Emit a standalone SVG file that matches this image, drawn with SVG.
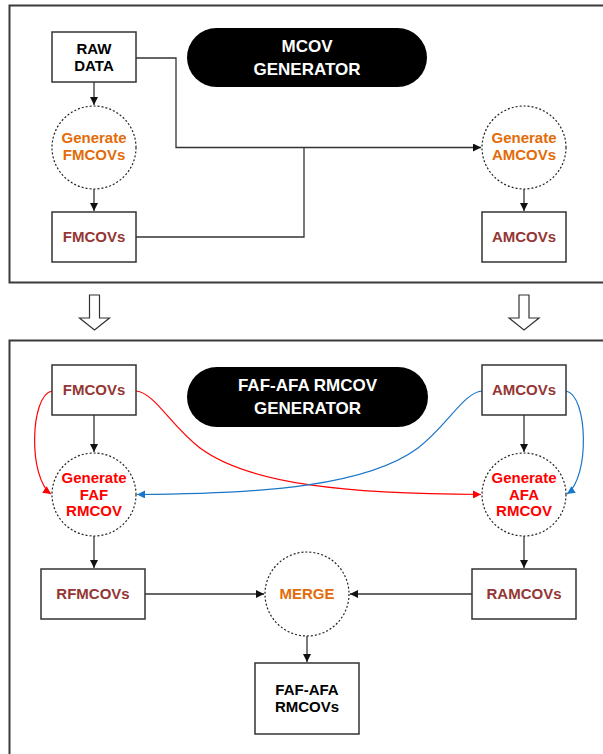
<svg xmlns="http://www.w3.org/2000/svg" width="603" height="754" viewBox="0 0 603 754">
<defs>
<style>
.frame{fill:none;stroke:#3a3a3a;stroke-width:2}
.box{fill:#fff;stroke:#333;stroke-width:1.5}
.pill{fill:#000}
.circ{fill:#fff;stroke:#222;stroke-width:1.2;stroke-dasharray:2 2}
.t{font-family:"Liberation Sans",Arial,sans-serif;font-weight:bold;font-size:15px;text-anchor:middle}
.pt{font-family:"Liberation Sans",Arial,sans-serif;font-weight:bold;font-size:17px;text-anchor:middle;fill:#fff}
.blk{fill:#000}
.brn{fill:#943634}
.org{fill:#E36C09}
.red{fill:#FF0000}
.c{fill:none;stroke:#333;stroke-width:1.3}
.cr{fill:none;stroke:#FF0000;stroke-width:1.2}
.cb{fill:none;stroke:#1a76c8;stroke-width:1.2}
.hollow{fill:#fff;stroke:#333;stroke-width:1.2}
</style>
<marker id="ak" markerWidth="9" markerHeight="8" refX="8" refY="4" orient="auto" markerUnits="userSpaceOnUse"><path d="M0,0 L8,4 L0,8 z" fill="#111"/></marker>
<marker id="ar" markerWidth="9" markerHeight="8" refX="8" refY="4" orient="auto" markerUnits="userSpaceOnUse"><path d="M0,0 L8,4 L0,8 z" fill="#FF0000"/></marker>
<marker id="ab" markerWidth="9" markerHeight="8" refX="8" refY="4" orient="auto" markerUnits="userSpaceOnUse"><path d="M0,0 L8,4 L0,8 z" fill="#1a76c8"/></marker>
</defs>

<rect class="frame" x="9.5" y="5.5" width="620" height="277"/>
<rect class="frame" x="9.5" y="340.5" width="620" height="440"/>

<g id="hollow-arrows">
<path class="hollow" d="M89.5,295 L99.5,295 L99.5,318 L109.5,318 L94.5,330 L79.5,318 L89.5,318 z"/>
<path class="hollow" d="M519,295 L529,295 L529,318 L539,318 L524,330 L509,318 L519,318 z"/>
</g>

<g id="connectors">
<path class="c" d="M136,58 H176 V147.5 H481" marker-end="url(#ak)"/>
<path class="c" d="M136,237 H304 V147.5"/>
<path class="c" d="M94,82 V105" marker-end="url(#ak)"/>
<path class="c" d="M94,189 V211" marker-end="url(#ak)"/>
<path class="c" d="M524,189 V211" marker-end="url(#ak)"/>
<path class="c" d="M94,415 V452" marker-end="url(#ak)"/>
<path class="c" d="M524,415 V452" marker-end="url(#ak)"/>
<path class="c" d="M94,536 V568" marker-end="url(#ak)"/>
<path class="c" d="M524,536 V568" marker-end="url(#ak)"/>
<path class="c" d="M145,594 H264" marker-end="url(#ak)"/>
<path class="c" d="M472,594 H350" marker-end="url(#ak)"/>
<path class="c" d="M307,636 V662" marker-end="url(#ak)"/>
<path class="cr" d="M52,391 C30,395 28,478 51,494" marker-end="url(#ar)"/>
<path class="cr" d="M136,391 C155,393 170,425 200,448 C250,485 350,494 481,494.5" marker-end="url(#ar)"/>
<path class="cb" d="M482,391 C463,393 448,425 418,448 C368,485 268,494 137,494.5" marker-end="url(#ab)"/>
<path class="cb" d="M566,391 C588,395 590,478 567,494" marker-end="url(#ab)"/>
</g>

<g id="raw-data"><rect class="box" x="52" y="32" width="84" height="50"/>
<text class="t blk" x="94" y="54">RAW</text><text class="t blk" x="94" y="71">DATA</text></g>

<g id="mcov-generator"><rect class="pill" x="187" y="28" width="240" height="59" rx="29.5"/>
<text class="pt" x="307" y="52">MCOV</text><text class="pt" x="307" y="75">GENERATOR</text></g>

<g id="gen-fmcovs"><ellipse class="circ" cx="94" cy="147.5" rx="42" ry="41.5"/>
<text class="t org" x="94" y="143">Generate</text><text class="t org" x="94" y="160">FMCOVs</text></g>

<g id="fmcovs-top"><rect class="box" x="52" y="212" width="84" height="50"/>
<text class="t brn" x="94" y="242">FMCOVs</text></g>

<g id="gen-amcovs"><ellipse class="circ" cx="524" cy="147.5" rx="42" ry="41.5"/>
<text class="t org" x="524" y="143">Generate</text><text class="t org" x="524" y="160">AMCOVs</text></g>

<g id="amcovs-top"><rect class="box" x="482" y="212" width="84" height="50"/>
<text class="t brn" x="524" y="242">AMCOVs</text></g>

<g id="fmcovs"><rect class="box" x="52" y="365" width="84" height="50"/>
<text class="t brn" x="94" y="395">FMCOVs</text></g>

<g id="rmcov-generator"><rect class="pill" x="187" y="367" width="241" height="60" rx="30"/>
<text class="pt" x="307.5" y="391">FAF-AFA RMCOV</text><text class="pt" x="307.5" y="414">GENERATOR</text></g>

<g id="amcovs"><rect class="box" x="482" y="365" width="84" height="50"/>
<text class="t brn" x="524" y="395">AMCOVs</text></g>

<g id="gen-faf"><ellipse class="circ" cx="94" cy="494.5" rx="42" ry="41.5"/>
<text class="t red" x="94" y="483">Generate</text><text class="t red" x="94" y="500">FAF</text><text class="t red" x="94" y="516">RMCOV</text></g>

<g id="gen-afa"><ellipse class="circ" cx="524" cy="494.5" rx="42" ry="41.5"/>
<text class="t red" x="524" y="483">Generate</text><text class="t red" x="524" y="500">AFA</text><text class="t red" x="524" y="516">RMCOV</text></g>

<g id="rfmcovs"><rect class="box" x="41" y="569" width="104" height="50"/>
<text class="t brn" x="93" y="599">RFMCOVs</text></g>

<g id="merge"><ellipse class="circ" cx="307" cy="594" rx="42" ry="42"/>
<text class="t org" x="307" y="599">MERGE</text></g>

<g id="ramcovs"><rect class="box" x="472" y="569" width="104" height="50"/>
<text class="t brn" x="524" y="599">RAMCOVs</text></g>

<g id="faf-afa-rmcovs"><rect class="box" x="255" y="663" width="104" height="71"/>
<text class="t blk" x="307" y="695">FAF-AFA</text><text class="t blk" x="307" y="712">RMCOVs</text></g>
</svg>
